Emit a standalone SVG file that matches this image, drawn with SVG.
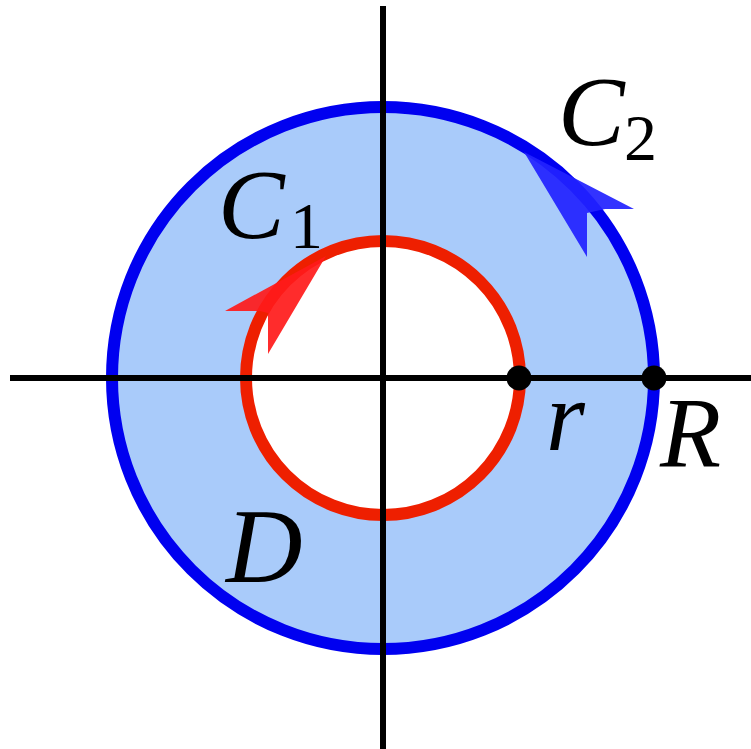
<svg xmlns="http://www.w3.org/2000/svg" width="751" height="749" viewBox="0 0 751 749">
<style>
.lbl{font-family:'Liberation Serif','Noto Serif','Tinos','Nimbus Roman','FreeSerif','DejaVu Serif',serif;font-style:italic;fill:#000}
.sub{font-family:'Liberation Serif','Noto Serif','Tinos','Nimbus Roman','FreeSerif','DejaVu Serif',serif;fill:#000}
.axis{stroke:#000;stroke-width:6;fill:none}
.dot{fill:#000}
</style>
<g id="region-D">
<path d="M383,107 A271,271 0 1,1 382.9,107 Z M383,241 A137,137 0 1,0 383.1,241 Z" fill="#A9CBFA" fill-rule="evenodd"/>
</g>
<g id="C2">
<circle cx="383" cy="378" r="271" fill="none" stroke="#0000F0" stroke-width="12"/>
<polygon points="524,152 634,209 605,209 587,213 587,257" fill="#2222FF" fill-opacity="0.92"/>
</g>
<g id="C1">
<circle cx="383" cy="378" r="137" fill="none" stroke="#EE1F00" stroke-width="12"/>
<polygon points="326,256 225,311 260,311 268,313 268,354" fill="#FF1A1A" fill-opacity="0.92"/>
</g>
<g id="connectors">
<line class="axis" x1="10" y1="378" x2="751" y2="378"/>
<line class="axis" x1="383" y1="6" x2="383" y2="749"/>
</g>
<g id="point-r"><circle class="dot" cx="519" cy="378" r="12.5"/></g>
<g id="point-R"><circle class="dot" cx="654" cy="378" r="12.5"/></g>
<g id="labels">
<text class="lbl" x="218" y="238" font-size="100">C</text>
<text class="sub" x="290" y="248" font-size="66">1</text>
<text class="lbl" x="558" y="145" font-size="100">C</text>
<text class="sub" x="624" y="160" font-size="66">2</text>
<text class="lbl" x="226" y="582" font-size="106">D</text>
<text class="lbl" x="546" y="450" font-size="100">r</text>
<text class="lbl" x="660" y="466" font-size="100">R</text>
</g>
</svg>
